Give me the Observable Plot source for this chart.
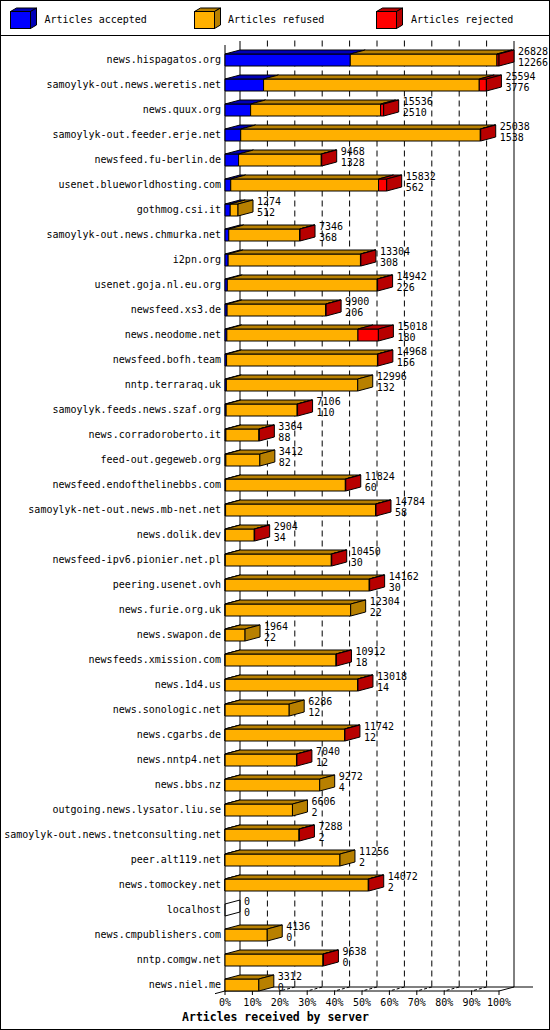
<!DOCTYPE html>
<html><head><meta charset="utf-8">
<script src="https://cdn.jsdelivr.net/npm/d3@7"></script>
<script src="https://cdn.jsdelivr.net/npm/@observablehq/plot@0.6"></script>
<style>
html,body{margin:0;padding:0;background:#fff;}
#page{position:relative;width:550px;height:1030px;overflow:hidden;font-family:"DejaVu Sans Mono",monospace;}
#frame{position:absolute;left:0;top:0;width:550px;height:1030px;box-sizing:border-box;border:1px solid #000;pointer-events:none;z-index:2;}
#sep{position:absolute;left:0;top:35px;width:550px;height:1px;background:#000;}
#legend{position:absolute;left:0;top:0;}
#chart{position:absolute;left:1px;top:36px;}
</style></head><body>
<div id="page"><svg id="legend" width="550" height="35"></svg><div id="sep"></div><div id="chart"></div><div id="frame"></div></div>
<script>
const hosts = ["news.hispagatos.org","samoylyk-out.news.weretis.net","news.quux.org","samoylyk-out.feeder.erje.net","newsfeed.fu-berlin.de","usenet.blueworldhosting.com","gothmog.csi.it","samoylyk-out.news.chmurka.net","i2pn.org","usenet.goja.nl.eu.org","newsfeed.xs3.de","news.neodome.net","newsfeed.bofh.team","nntp.terraraq.uk","samoylyk.feeds.news.szaf.org","news.corradoroberto.it","feed-out.gegeweb.org","newsfeed.endofthelinebbs.com","samoylyk-net-out.news.mb-net.net","news.dolik.dev","newsfeed-ipv6.pionier.net.pl","peering.usenet.ovh","news.furie.org.uk","news.swapon.de","newsfeeds.xmission.com","news.1d4.us","news.sonologic.net","news.cgarbs.de","news.nntp4.net","news.bbs.nz","outgoing.news.lysator.liu.se","samoylyk-out.news.tnetconsulting.net","peer.alt119.net","news.tomockey.net","localhost","news.cmpublishers.com","nntp.comgw.net","news.niel.me"];
const offered = [26828,25594,15536,25038,9468,15832,1274,7346,13304,14942,9900,15018,14968,12996,7106,3364,3412,11824,14784,2904,10450,14162,12304,1964,10912,13018,6286,11742,7040,9272,6606,7288,11256,14072,0,4136,9638,3312];
const accepted = [12266,3776,2510,1538,1328,562,512,368,308,226,206,180,156,132,110,88,82,60,58,34,30,30,22,22,18,14,12,12,12,4,2,2,2,2,0,0,0,0];
const refused = [14362,21118,12726,23460,8100,14470,762,6938,12956,14676,9654,12838,14772,12864,6956,3236,3330,11724,14686,2830,10380,14092,12282,1942,10854,12964,6274,11690,6988,9268,6604,7246,11254,14030,0,4136,9598,3312];
const rejected = [200,700,300,40,40,800,0,40,40,40,40,2000,40,0,40,40,0,40,40,40,40,40,0,0,40,40,0,40,40,0,0,40,0,40,0,0,40,0];
const seriesNames = ["Articles accepted","Articles refused","Articles rejected"];
const frontColors = ["#0000ff","#ffb000","#ff0000"];
const shadeColors = ["#0000b8","#b88000","#b80000"];
const tickPercents = [0,10,20,30,40,50,60,70,80,90,100];

const FONT = "DejaVu Sans Mono";
const W = 548, H = 993;
const maxVal = d3.max(offered);
const xRange = [223.5, 497.5];
const yRange = [23.5, 23.5 + 25 * (hosts.length - 1)];
const pxX = maxVal / (xRange[1] - xRange[0]);
const pxY = (hosts.length - 1) / (yRange[1] - yRange[0]);
const DXp = 15, DYp = 4, HHp = 6;
const DX = DXp * pxX, DY = DYp * pxY, HH = HHp * pxY;
const last = hosts.length - 1;
const yBotFront = last + HH;
const yBotBack = yBotFront - DY;
const yTopBack = -19 * pxY;
const yTopFront = yTopBack + DY;

const rows = hosts.map((h, i) => ({host: h, i, offered: offered[i], accepted: accepted[i], refused: refused[i], rejected: rejected[i]}));

// polygons for the 3D bars
const polys = [];
let pid = 0;
rows.forEach(r => {
  const vals = [r.accepted, r.refused, r.rejected];
  const y0 = r.i - HH, y1 = r.i + HH;
  let a = 0, lastSeg = -1;
  vals.forEach((v, s) => {
    if (v <= 0) return;
    const b = a + v;
    let id = pid++;
    [[a,y0],[b,y0],[b,y1],[a,y1]].forEach(([x,y]) => polys.push({x, y, id, color: frontColors[s]}));
    id = pid++;
    [[a,y0],[b,y0],[b+DX,y0-DY],[a+DX,y0-DY]].forEach(([x,y]) => polys.push({x, y, id, color: shadeColors[s]}));
    lastSeg = s; a = b;
  });
  const id = pid++;
  const c = lastSeg >= 0 ? shadeColors[lastSeg] : "none";
  [[a,y0],[a+DX,y0-DY],[a+DX,y1-DY],[a,y1]].forEach(([x,y]) => polys.push({x, y, id, color: c}));
});

const tickVals = tickPercents.map(p => p / 100 * maxVal);
const innerTicks = tickVals.slice(1, -1);

const frameLinks = [
  {x1: 0, y1: yTopFront, x2: 0, y2: yBotFront},
  {x1: DX, y1: yTopBack, x2: DX, y2: yBotBack},
  {x1: maxVal + DX, y1: yTopBack, x2: maxVal + DX, y2: yBotBack},
  {x1: DX, y1: yBotBack, x2: maxVal + DX + 19 * pxX, y2: yBotBack},
  {x1: 0, y1: yBotFront, x2: maxVal, y2: yBotFront},
  {x1: -10 * pxX, y1: yBotFront + DY * 10 / DXp, x2: DX, y2: yBotBack},
  {x1: maxVal, y1: yBotFront, x2: maxVal + DX, y2: yBotBack}
];

const colorsAll = [...frontColors, ...shadeColors, "none"];
const barMarks = colorsAll.map(c => Plot.line(polys.filter(p => p.color === c), {
  x: "x", y: "y", z: "id", fill: c, stroke: "#000", strokeWidth: 1,
  curve: "linear-closed", strokeLinejoin: "miter", strokeLinecap: "butt"
}));

const chart = Plot.plot({
  width: W, height: H,
  margin: 0,
  style: {background: "transparent", overflow: "visible"},
  x: {type: "linear", domain: [0, maxVal], range: xRange, axis: null},
  y: {type: "linear", domain: [0, last], range: yRange, axis: null},
  marks: [
    Plot.ruleX(innerTicks, {x: d => d + DX, y1: yTopBack, y2: yBotBack, stroke: "#000", strokeWidth: 1, strokeDasharray: "6,4"}),
    Plot.link(innerTicks, {x1: d => d + DX, y1: yBotBack, x2: d => d, y2: yBotFront, stroke: "#000", strokeWidth: 1, strokeDasharray: "3,2"}),
    Plot.link(frameLinks, {x1: "x1", y1: "y1", x2: "x2", y2: "y2", stroke: "#000", strokeWidth: 1}),
    Plot.ruleX(tickVals, {x: d => d, y1: yBotFront, y2: yBotFront + 4.5 * pxY, stroke: "#000", strokeWidth: 1}),
    ...barMarks,
    Plot.text(rows, {x: 0, y: "i", text: "host", textAnchor: "end", dx: -4, fontFamily: FONT, fontSize: 10, fill: "#000"}),
    Plot.text(rows, {x: "offered", y: "i", text: d => String(d.offered), textAnchor: "start", dx: DXp + 4, dy: -8, fontFamily: FONT, fontSize: 10, fill: "#000"}),
    Plot.text(rows, {x: "offered", y: "i", text: d => String(d.accepted), textAnchor: "start", dx: DXp + 4, dy: 2.3, fontFamily: FONT, fontSize: 10, fill: "#000"}),
    Plot.text(tickVals, {x: d => d, y: yBotFront, text: (d, i) => tickPercents[i] + "%", dy: 11.5, textAnchor: "middle", fontFamily: FONT, fontSize: 10, fill: "#000"}),
    Plot.text(["Articles received by server"], {frameAnchor: "bottom", lineAnchor: "middle", dy: -12, fontFamily: FONT, fontSize: 11.5, fontWeight: "bold", fill: "#000"})
  ]
});
document.getElementById("chart").appendChild(chart);

// legend
const lg = d3.select("#legend");
const legendX = [10.5, 194.5, 376.5];
const textX = [44.5, 228, 411];
seriesNames.forEach((name, s) => {
  const x = legendX[s], t = 11.5, b = 28.5, w = 20, dx = 6, dy = 3.5;
  lg.append("polygon").attr("points", `${x},${t} ${x+w},${t} ${x+w+dx},${t-dy} ${x+dx},${t-dy}`).attr("fill", shadeColors[s]).attr("stroke", "#000");
  lg.append("polygon").attr("points", `${x+w},${t} ${x+w+dx},${t-dy} ${x+w+dx},${b-dy} ${x+w},${b}`).attr("fill", shadeColors[s]).attr("stroke", "#000");
  lg.append("rect").attr("x", x).attr("y", t).attr("width", w).attr("height", b - t).attr("fill", frontColors[s]).attr("stroke", "#000");
  lg.append("text").attr("x", textX[s]).attr("y", 20).attr("dy", "0.32em").attr("font-family", FONT).attr("font-size", 10).text(name);
});
</script>
</body></html>
